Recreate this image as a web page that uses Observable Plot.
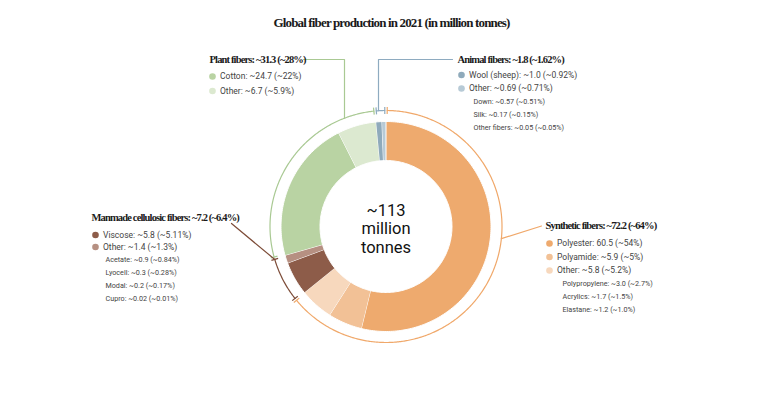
<!DOCTYPE html>
<html><head><meta charset="utf-8">
<script src="https://cdn.jsdelivr.net/npm/d3@7"></script>
<script src="https://cdn.jsdelivr.net/npm/@observablehq/plot@0.6"></script>
<style>body{margin:0;background:#fff} #chart{width:770px;height:398px}</style>
</head><body><div id="chart"></div>
<script>
// ---- data ----
const titleText = "Global fiber production in 2021 (in million tonnes)";
const centerLines = ["~113", "million", "tonnes"];

const groupNames = ["Synthetic fibers", "Manmade cellulosic fibers", "Plant fibers", "Animal fibers"];
const groupValues = [72.2, 7.2, 31.3, 1.8];
const groupDecimals = [1, 1, 1, 1];
const groupShares = ["64%", "6.4%", "28%", "1.62%"];
const groupColors = ["#f0a86a", "#7d4c38", "#a9c993", "#8eabc0"];

const sliceNames = ["Polyester", "Polyamide", "Other", "Viscose", "Other", "Cotton", "Other", "Wool (sheep)", "Other"];
const sliceValues = [60.5, 5.9, 5.8, 5.8, 1.4, 24.7, 6.7, 1.0, 0.69];
const sliceDecimals = [1, 1, 1, 1, 1, 1, 1, 1, 2];
const sliceShares = ["54%", "5%", "5.2%", "5.11%", "1.3%", "22%", "5.9%", "0.92%", "0.71%"];
const sliceApprox = [false, true, true, true, true, true, true, true, true];
const sliceGroup = [0, 0, 0, 1, 1, 2, 2, 3, 3];
const sliceColors = ["#eeaa6e", "#f2c196", "#f7d8bd", "#8d5c49", "#b69082", "#b9d3a3", "#dce9d0", "#8faabb", "#b7cad6"];

const subNames = ["Polypropylene", "Acrylics", "Elastane", "Acetate", "Lyocell", "Modal", "Cupro", "Down", "Silk", "Other fibers"];
const subValues = [3.0, 1.7, 1.2, 0.9, 0.3, 0.2, 0.02, 0.57, 0.17, 0.05];
const subDecimals = [1, 1, 1, 1, 1, 1, 2, 2, 2, 2];
const subShares = ["2.7%", "1.5%", "1.0%", "0.84%", "0.28%", "0.17%", "0.01%", "0.51%", "0.15%", "0.05%"];
const subGroup = [0, 0, 0, 1, 1, 1, 1, 3, 3, 3];

// ---- layout ----
const W = 770, H = 398;
const cx = 385.5, cy = 226;
const rIn = 66, rOut = 105, rBr = 116, tickHalf = 3.5;
const bracketGap = 0.6 * Math.PI / 180;
const blocks = [
  {x: 545, y: 225, dotX: 549, subX: 562, itemY: [243, 256.5, 270], subY: [283, 296.5, 309.5]},
  {x: 91, y: 217, dotX: 95, subX: 105, itemY: [234.5, 246.5], subY: [259, 272, 285, 298]},
  {x: 209, y: 59, dotX: 212, subX: 0, itemY: [76, 90.5], subY: []},
  {x: 457, y: 59, dotX: 461, subX: 473, itemY: [74.5, 88], subY: [101.5, 114.5, 127.5]}
];
const serif = "Liberation Serif";
const sans = "Roboto";

// ---- geometry from values ----
const total = d3.sum(sliceValues);
const cum = d3.cumsum(sliceValues);
const ang = v => v / total * 2 * Math.PI;
const sliceA0 = sliceValues.map((v, i) => ang(cum[i] - v));
const sliceA1 = sliceValues.map((v, i) => ang(cum[i]));
const pt = (r, a) => [cx + r * Math.sin(a), cy - r * Math.cos(a)];

const slicePts = [];
sliceValues.forEach((v, i) => {
  const a0 = sliceA0[i], a1 = sliceA1[i];
  const n = Math.max(4, Math.ceil((a1 - a0) / 0.02));
  for (let k = 0; k <= n; k++) { const [x, y] = pt(rOut, a0 + (a1 - a0) * k / n); slicePts.push({s: i, x, y, c: sliceColors[i]}); }
  for (let k = n; k >= 0; k--) { const [x, y] = pt(rIn, a0 + (a1 - a0) * k / n); slicePts.push({s: i, x, y, c: sliceColors[i]}); }
});

const groupA0 = groupNames.map((g, gi) => d3.min(sliceGroup.map((sg, i) => sg === gi ? sliceA0[i] : Infinity)));
const groupA1 = groupNames.map((g, gi) => d3.max(sliceGroup.map((sg, i) => sg === gi ? sliceA1[i] : -Infinity)));

const bracketPts = [], bracketTicks = [];
groupNames.forEach((g, gi) => {
  const a0 = groupA0[gi] + bracketGap, a1 = groupA1[gi] - bracketGap;
  const n = Math.max(4, Math.ceil((a1 - a0) / 0.01));
  for (let k = 0; k <= n; k++) { const [x, y] = pt(rBr, a0 + (a1 - a0) * k / n); bracketPts.push({g: gi, x, y, c: groupColors[gi]}); }
  for (const a of [a0, a1]) {
    const [x1, y1] = pt(rBr - tickHalf, a), [x2, y2] = pt(rBr + tickHalf, a);
    bracketTicks.push({x1, y1, x2, y2, c: groupColors[gi]});
  }
});

// leader lines (label anchor -> bracket arc)
const onArcX = x => [x, cy - Math.sqrt(rBr * rBr - (x - cx) * (x - cx))];
const leaders = [];
const addLeader = (gi, arr) => arr.forEach(([x, y]) => leaders.push({g: gi, x, y, c: groupColors[gi]}));
addLeader(0, [pt(rBr, 96 * Math.PI / 180), [541, 225.5]]);
addLeader(1, [[231, 223], pt(rBr, groupA1[1] - bracketGap)]);
addLeader(2, [[303, 59], [344, 59], onArcX(344)]);
addLeader(3, [[452, 59], [378, 59], onArcX(378)]);

// ---- labels ----
const fmt = (v, d) => v.toFixed(d);
const headings = groupNames.map((g, gi) => ({
  x: blocks[gi].x, y: blocks[gi].y,
  t: `${g}: ~${fmt(groupValues[gi], groupDecimals[gi])} (~${groupShares[gi]})`
}));
const items = [], subs = [];
const counters = [0, 0, 0, 0];
sliceNames.forEach((n, i) => {
  const gi = sliceGroup[i], b = blocks[gi], k = counters[gi]++;
  items.push({x: b.dotX, y: b.itemY[k], c: sliceColors[i],
    t: `${n}: ${sliceApprox[i] ? "~" : ""}${fmt(sliceValues[i], sliceDecimals[i])} (~${sliceShares[i]})`});
});
const subCounters = [0, 0, 0, 0];
subNames.forEach((n, i) => {
  const gi = subGroup[i], b = blocks[gi], k = subCounters[gi]++;
  subs.push({x: b.subX, y: b.subY[k], t: `${n}: ~${fmt(subValues[i], subDecimals[i])} (~${subShares[i]})`});
});
const centerData = centerLines.map((t, i) => ({t, x: cx, y: 210 + i * 18.5}));

const chart = Plot.plot({
  width: W, height: H, margin: 0,
  x: {domain: [0, W], range: [0, W], axis: null},
  y: {domain: [0, H], range: [0, H], axis: null},
  color: {type: "identity"},
  style: {background: "#fff"},
  marks: [
    Plot.line(slicePts, {x: "x", y: "y", z: "s", fill: "c", stroke: "#fff", strokeWidth: 1, strokeLinejoin: "round"}),
    Plot.line(bracketPts, {x: "x", y: "y", z: "g", stroke: "c", strokeWidth: 1.2}),
    Plot.link(bracketTicks, {x1: "x1", y1: "y1", x2: "x2", y2: "y2", stroke: "c", strokeWidth: 1.2}),
    Plot.line(leaders, {x: "x", y: "y", z: "g", stroke: "c", strokeWidth: 1.2}),
    Plot.text([titleText], {x: 391, y: 22, text: d => d, fontFamily: serif, fontWeight: "bold", fontSize: 13, fill: "#1a1a1a", lineAnchor: "middle"}),
    Plot.text(headings, {x: "x", y: "y", text: "t", textAnchor: "start", lineAnchor: "middle", fontFamily: serif, fontWeight: "bold", fontSize: 10.5, fill: "#1a1a1a"}),
    Plot.dot(items, {x: "x", y: "y", r: 3.3, fill: "c"}),
    Plot.text(items, {x: d => d.x + 7.5, y: "y", text: "t", textAnchor: "start", lineAnchor: "middle", fontFamily: sans, fontSize: 8.5, fill: "#444"}),
    Plot.text(subs, {x: "x", y: "y", text: "t", textAnchor: "start", lineAnchor: "middle", fontFamily: sans, fontSize: 7.2, fill: "#444"}),
    Plot.text(centerData, {x: "x", y: "y", text: "t", lineAnchor: "middle", fontFamily: sans, fontSize: 16.5, fill: "#111"})
  ]
});
d3.select(chart).selectAll(`g[font-family='${serif}'] text`).style("letter-spacing", "-0.85px");
document.getElementById("chart").appendChild(chart);
</script>
</body></html>
